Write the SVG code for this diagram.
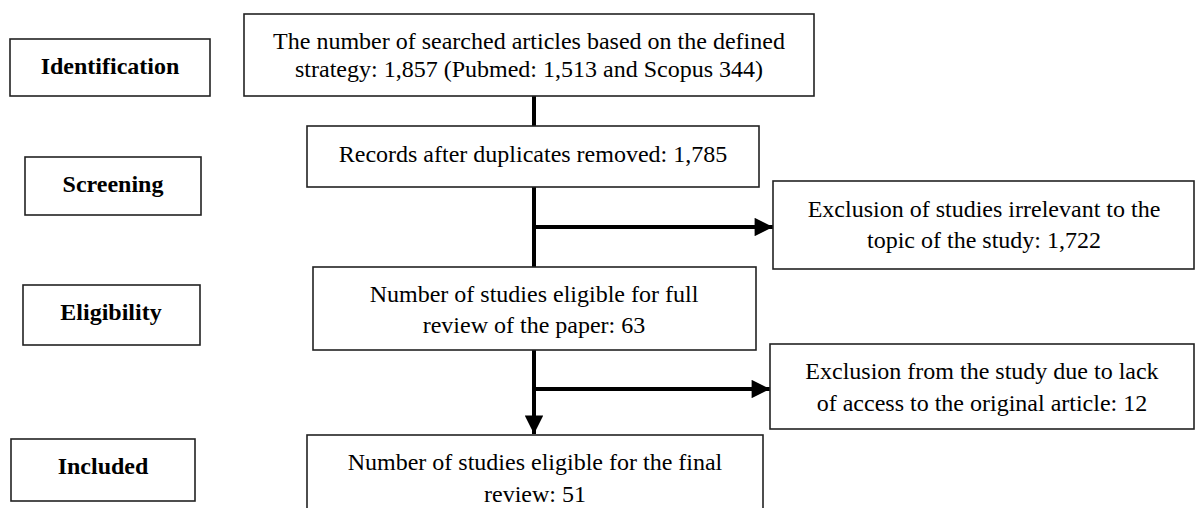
<svg xmlns="http://www.w3.org/2000/svg" width="1196" height="508" viewBox="0 0 1196 508">
<style>
.box{fill:#fff;stroke:#222;stroke-width:1.6}
.lbl{font-family:"Liberation Serif","Times New Roman",serif;font-size:24px;font-weight:bold;fill:#000;text-anchor:middle}
.txt{font-family:"Liberation Serif","Times New Roman",serif;font-size:24px;fill:#000;text-anchor:middle}
.ln{stroke:#000;stroke-width:4;fill:none}
</style>
<defs>
<marker id="ah" viewBox="0 0 10 10" refX="10" refY="5" markerWidth="5" markerHeight="4.6" markerUnits="strokeWidth" orient="auto">
<path d="M0,0 L10,5 L0,10 Z" fill="#000"/>
</marker>
</defs>
<rect width="1196" height="508" fill="#fff"/>
<g id="stage-identification"><rect class="box" x="10" y="39" width="200" height="57"/><text class="lbl" x="110" y="74">Identification</text></g>
<g id="stage-screening"><rect class="box" x="25" y="157" width="176" height="58"/><text class="lbl" x="113" y="192">Screening</text></g>
<g id="stage-eligibility"><rect class="box" x="23" y="285" width="177" height="60"/><text class="lbl" x="111" y="320">Eligibility</text></g>
<g id="stage-included"><rect class="box" x="11" y="439" width="184" height="62"/><text class="lbl" x="103" y="474">Included</text></g>
<g id="connectors">
<line class="ln" x1="534" y1="96" x2="534" y2="126"/>
<line class="ln" x1="534" y1="187" x2="534" y2="267"/>
<line class="ln" x1="534" y1="227" x2="773" y2="227" marker-end="url(#ah)"/>
<line class="ln" x1="534" y1="350" x2="534" y2="434" marker-end="url(#ah)"/>
<line class="ln" x1="534" y1="389" x2="770" y2="389" marker-end="url(#ah)"/>
</g>
<g id="searched"><rect class="box" x="244" y="14" width="570" height="82"/><text class="txt" x="529" y="49">The number of searched articles based on the defined</text><text class="txt" x="529" y="77">strategy: 1,857 (Pubmed: 1,513 and Scopus 344)</text></g>
<g id="records"><rect class="box" x="307" y="126" width="452" height="61"/><text class="txt" x="533" y="162">Records after duplicates removed: 1,785</text></g>
<g id="excl-irrelevant"><rect class="box" x="773" y="181" width="421" height="88"/><text class="txt" x="984" y="217">Exclusion of studies irrelevant to the</text><text class="txt" x="984" y="248">topic of the study: 1,722</text></g>
<g id="eligible-full"><rect class="box" x="313" y="267" width="443" height="83"/><text class="txt" x="534" y="302">Number of studies eligible for full</text><text class="txt" x="534" y="333">review of the paper: 63</text></g>
<g id="excl-access"><rect class="box" x="770" y="344" width="424" height="85"/><text class="txt" x="982" y="379">Exclusion from the study due to lack</text><text class="txt" x="982" y="411">of access to the original article: 12</text></g>
<g id="final"><rect class="box" x="307" y="435" width="456" height="90"/><text class="txt" x="535" y="470">Number of studies eligible for the final</text><text class="txt" x="535" y="502">review: 51</text></g>
</svg>
